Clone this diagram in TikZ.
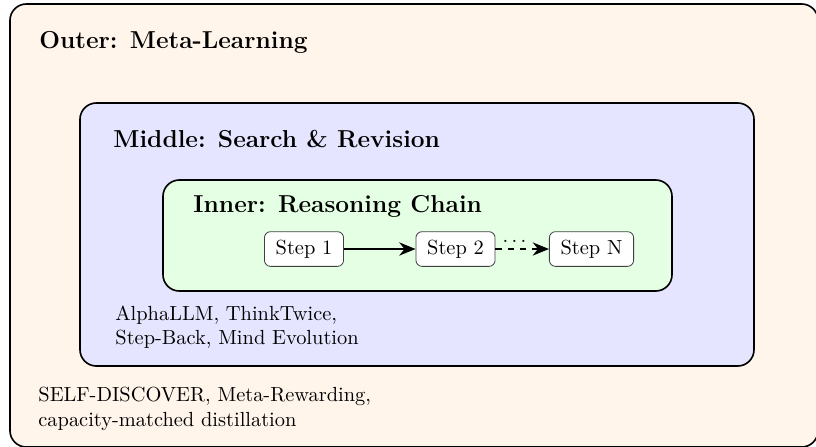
\documentclass[tikz,border=0pt]{standalone}
\usepackage{amsmath}
\usepackage{tikz}
\usetikzlibrary{arrows.meta}

\tikzset{
  layer/.style={draw=black, thick, rounded corners=8pt},
  title/.style={anchor=base west, font=\large\bfseries, inner sep=0pt},
  refs/.style={anchor=north west, align=left, inner sep=0pt},
  stepbox/.style={draw=black!75, fill=white, rounded corners=3pt, inner xsep=5.5pt, inner ysep=4pt}
}

\begin{document}
\begin{tikzpicture}[x=0.49pt, y=-0.49pt, >={Stealth[length=8pt,width=6.5pt]}]
        \useasboundingbox (0,0) rectangle (816,446);
        % nested loops
        \draw[layer, fill=orange!8] (10,4) rectangle (818,447);
        \draw[layer, fill=blue!10] (80,103) rectangle (754,366);
        \draw[layer, fill=green!10] (163,180) rectangle (672,291);
        \node[title] (outer) at (39,48) {Outer: Meta-Learning};
        \node[title] (middle) at (113,147) {Middle: Search \& Revision};
        \node[title] (inner) at (193,212) {Inner: Reasoning Chain};
        % the chain
        \node[stepbox] (s1) at (304,249) {Step 1};
        \node[stepbox] (s2) at (455.5,249) {Step 2};
        \node[stepbox] (sn) at (591.5,249) {Step N};
        \draw[->, thick] (s1)--(s2);
        \draw[->, thick, dashed] (s2)--(sn)node[midway, above, xshift=-3pt, inner sep=1pt]{$\cdots$};
        \node[refs] (search) at (115,305) {AlphaLLM, ThinkTwice,\\Step-Back, Mind Evolution};
        \node[refs] (meta) at (38,387) {SELF-DISCOVER, Meta-Rewarding,\\capacity-matched distillation};
    \end{tikzpicture}
\end{document}
